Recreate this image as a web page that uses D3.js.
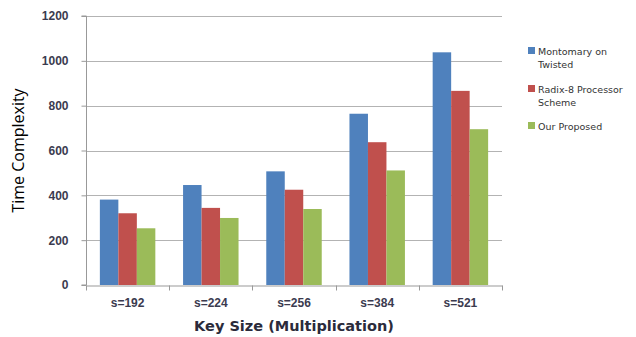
<!DOCTYPE html>
<html>
<head>
<meta charset="utf-8">
<script src="https://cdn.jsdelivr.net/npm/d3@7"></script>
<style>
  body { margin: 0; background: #fff; }
  svg { display: block; font-family: "DejaVu Sans", Verdana, sans-serif; }
</style>
</head>
<body>
<script>
// chart data
const categories = ["s=192", "s=224", "s=256", "s=384", "s=521"];
const seriesNames = ["Montomary on Twisted", "Radix-8 Processor Scheme", "Our Proposed"];
const montomary = [381, 446, 507, 764, 1038];
const radix8 = [320, 344, 425, 637, 866];
const proposed = [253, 299, 339, 511, 695];
const yTicks = [0, 200, 400, 600, 800, 1000, 1200];
const colors = ["#4F81BD", "#C0504D", "#9BBB59"];

const width = 636, height = 337;
const margin = {left: 86, right: 134, top: 16, bottom: 52};

const svg = d3.select("body").append("svg")
    .attr("width", width)
    .attr("height", height);

const x = d3.scaleBand()
    .domain(categories)
    .range([margin.left, width - margin.right]);

// 150% gap width between groups, like the original
const x1 = d3.scaleBand()
    .domain(seriesNames)
    .range([0, x.bandwidth()])
    .paddingOuter(0.75);

const y = d3.scaleLinear()
    .domain([0, 1200])
    .range([height - margin.bottom, margin.top]);

// gridlines
svg.append("g")
    .selectAll("line")
    .data(yTicks.slice(1))
    .join("line")
    .attr("x1", margin.left)
    .attr("x2", width - margin.right)
    .attr("y1", d => Math.round(y(d)) + 0.5)
    .attr("y2", d => Math.round(y(d)) + 0.5)
    .attr("stroke", "#b3b3b3")
    .attr("stroke-width", 1);

// bars
const series = [montomary, radix8, proposed];
const groups = svg.append("g")
    .selectAll("g")
    .data(categories)
    .join("g")
    .attr("transform", d => "translate(" + x(d) + ",0)");

groups.selectAll("rect")
    .data((d, i) => series.map((s, k) => ({name: seriesNames[k], value: s[i], k: k})))
    .join("rect")
    .attr("x", d => x1(d.name))
    .attr("width", x1.bandwidth())
    .attr("y", d => y(d.value))
    .attr("height", d => y(0) - y(d.value))
    .attr("fill", d => colors[d.k]);

// y axis
const yAxis = svg.append("g")
    .attr("transform", "translate(" + (margin.left + 0.5) + ",0)")
    .call(d3.axisLeft(y).tickValues(yTicks).tickFormat(d3.format("d")).tickSize(5).tickPadding(13));
yAxis.select(".domain").attr("stroke", "#999").attr("d", "M-5," + y(0) + "H0V" + y(1200) + "H-5");
yAxis.selectAll(".tick line").attr("stroke", "#999");
yAxis.selectAll("text")
    .attr("fill", "#3b3b4f")
    .style("font-size", "12px")
    .style("font-weight", "bold");

// x axis
const xAxis = svg.append("g")
    .attr("transform", "translate(0," + (Math.round(y(0)) + 0.5) + ")")
    .call(d3.axisBottom(x).tickSize(0).tickPadding(13));
xAxis.select(".domain").attr("stroke", "#999");
xAxis.selectAll("text")
    .attr("fill", "#3b3b4f")
    .style("font-size", "12px")
    .style("font-weight", "bold");
xAxis.selectAll(".sep")
    .data(categories.map(c => x(c)).concat([x.range()[1]]))
    .join("line")
    .attr("x1", d => Math.round(d) + 0.5)
    .attr("x2", d => Math.round(d) + 0.5)
    .attr("y1", 0)
    .attr("y2", 5)
    .attr("stroke", "#999");

// axis titles
svg.append("text")
    .attr("transform", "translate(24," + ((margin.top + y(0)) / 2) + ") rotate(-90)")
    .attr("text-anchor", "middle")
    .attr("fill", "#000")
    .style("font-family", "'Open Sans', sans-serif")
    .style("font-size", "16px")
    .text("Time Complexity");

svg.append("text")
    .attr("x", (margin.left + width - margin.right) / 2)
    .attr("y", 331)
    .attr("text-anchor", "middle")
    .attr("fill", "#2b2b3b")
    .style("font-size", "14.5px")
    .style("font-weight", "bold")
    .text("Key Size (Multiplication)");

// legend
const legendLines = [["Montomary on", "Twisted"], ["Radix-8 Processor", "Scheme"], ["Our Proposed"]];
const legendY = [51, 89, 126];
const legend = svg.append("g")
    .selectAll("g")
    .data(legendLines)
    .join("g")
    .attr("transform", (d, i) => "translate(528," + legendY[i] + ")");

legend.append("rect")
    .attr("x", 0)
    .attr("y", -4)
    .attr("width", 7)
    .attr("height", 7)
    .attr("fill", (d, i) => colors[i]);

legend.each(function(d) {
    const t = d3.select(this).append("text")
        .attr("fill", "#333")
        .style("font-size", "9.5px");
    d.forEach((line, j) => {
        t.append("tspan")
            .attr("x", 10)
            .attr("y", 4 + j * 12.5)
            .text(line);
    });
});
</script>
</body>
</html>
